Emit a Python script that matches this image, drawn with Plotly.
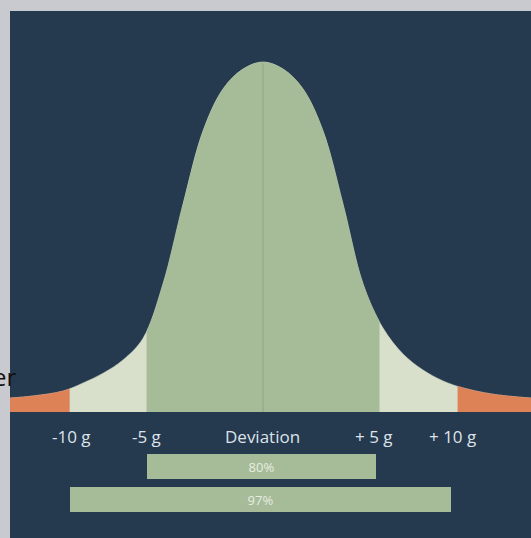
import plotly.graph_objects as go

# ---- data (deviation scale units, relative height) ----
left_x = [-10.86, -9.871, -8.584, -7.725, -6.867, -6.009, -5.150, -4.292, -3.433,
          -2.575, -1.717, -0.858]
left_y = [0.040, 0.046, 0.060, 0.083, 0.111, 0.149, 0.211, 0.366, 0.594,
          0.803, 0.923, 0.980]
peak_x = [0.0]
peak_y = [1.0]
right_x = [0.858, 1.717, 2.575, 3.433, 4.292, 5.150, 6.009, 6.867, 7.725, 8.584,
           9.871, 11.5]
right_y = [0.980, 0.923, 0.803, 0.594, 0.366, 0.240, 0.166, 0.120, 0.089, 0.069,
           0.051, 0.040]
curve_x = left_x + peak_x + right_x
curve_y = left_y + peak_y + right_y

inner_edges = [-5.0, 5.0]      # 80 % band
outer_edges = [-8.3, 8.35]     # 97 % band

tick_pos = [-8.24, -5.02, -0.04, 4.76, 8.15]
tick_text = ["-10\u00a0g", "-5\u00a0g", "Deviation", "+\u00a05\u00a0g", "+\u00a010\u00a0g"]

bar_labels = ["80%", "97%"]
bar_start = [-4.98, -8.28]
bar_end = [4.85, 8.07]
bar_level = [-0.156, -0.251]

NAVY = "#25394f"
GREEN = "#a6bc99"
CREAM = "#d8e0cc"
ORANGE = "#dd8157"
GRAY = "#c9cacf"

X_RANGE = [-10.86, 11.5]
Y_RANGE = [-0.36, 1.146]
span = X_RANGE[1] - X_RANGE[0]


def dom(lo, hi):
    return [(lo - X_RANGE[0]) / span, (hi - X_RANGE[0]) / span]


fig = go.Figure()

# the whole curve is drawn on several x-axes sharing one scale; each axis'
# domain clips the curve to one band, so the outline stays one smooth spline
bands = [
    ("x", X_RANGE, CREAM),
    ("x2", inner_edges, GREEN),
    ("x3", [X_RANGE[0], outer_edges[0]], ORANGE),
    ("x4", [outer_edges[1], X_RANGE[1]], ORANGE),
]
for ax, rng, col in bands:
    fig.add_trace(go.Scatter(
        x=curve_x, y=curve_y, xaxis=ax, yaxis="y", mode="lines",
        fill="tozeroy", fillcolor=col,
        line=dict(color=col, width=0.5, shape="spline", smoothing=1.0),
        hoverinfo="skip", showlegend=False))

# faint centre line (on the green band's axis so it sits above the fill)
fig.add_trace(go.Scatter(
    x=[0, 0], y=[0, max(curve_y) - 0.004], xaxis="x2", yaxis="y", mode="lines",
    line=dict(color="#97ac8b", width=1.5), hoverinfo="skip", showlegend=False))

# range bars
fig.add_trace(go.Bar(
    y=bar_level,
    x=[e - s for s, e in zip(bar_start, bar_end)],
    base=bar_start,
    orientation="h",
    width=0.072,
    marker=dict(color=GREEN, line=dict(width=0)),
    text=bar_labels,
    textposition="inside",
    insidetextanchor="middle",
    textfont=dict(family="Open Sans", size=13, color="#e6ece0"),
    hoverinfo="skip", showlegend=False))

annotations = []
for p, t in zip(tick_pos, tick_text):
    annotations.append(dict(
        x=p, y=-0.069, xref="x", yref="y", text=t, showarrow=False,
        xanchor="center", yanchor="middle",
        font=dict(family="Open Sans", size=17, color="#dde3e9")))

annotations.append(dict(
    x=(18 - 10) / 521, y=(538 - 376) / 527, xref="paper", yref="paper",
    text="er", showarrow=False, xanchor="right", yanchor="middle",
    font=dict(family="Open Sans", size=24, color="#111111")))

hidden = dict(visible=False, fixedrange=True)
fig.update_layout(
    width=531, height=538,
    margin=dict(l=10, r=0, t=11, b=0),
    paper_bgcolor=GRAY,
    plot_bgcolor="rgba(0,0,0,0)",
    xaxis=dict(range=X_RANGE, domain=[0, 1], **hidden),
    xaxis2=dict(range=inner_edges, domain=dom(*inner_edges), anchor="y", **hidden),
    xaxis3=dict(range=[X_RANGE[0], outer_edges[0]], domain=dom(X_RANGE[0], outer_edges[0]),
                anchor="y", **hidden),
    xaxis4=dict(range=[outer_edges[1], X_RANGE[1]], domain=dom(outer_edges[1], X_RANGE[1]),
                anchor="y", **hidden),
    yaxis=dict(range=Y_RANGE, **hidden),
    shapes=[dict(type="rect", xref="paper", yref="paper", x0=0, x1=1, y0=0, y1=1,
                 fillcolor=NAVY, line=dict(width=0), layer="below")],
    annotations=annotations,
    bargap=0,
)

fig.write_html("out.html", config={"displayModeBar": False},
               post_script="document.body.style.margin='0';document.body.style.overflow='hidden';")
